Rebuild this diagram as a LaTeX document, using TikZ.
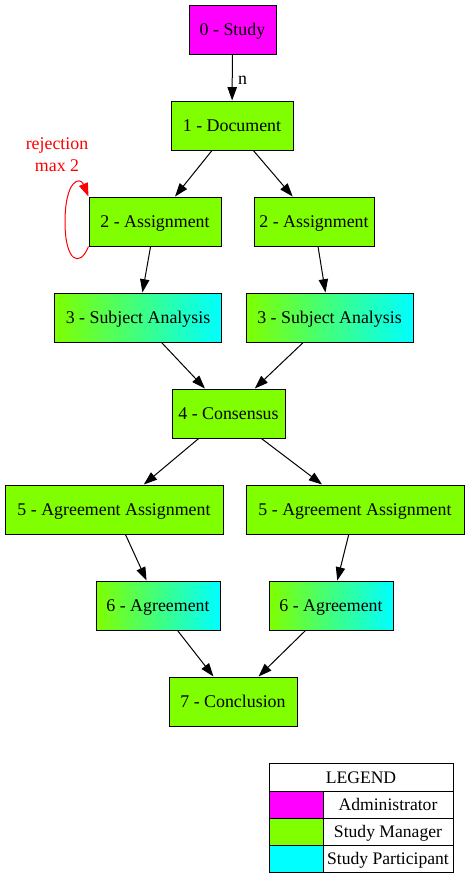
\documentclass[tikz,border=0pt]{standalone}
\usepackage{fontspec}
\setmainfont{Liberation Serif}
\usetikzlibrary{arrows.meta}
\definecolor{adm}{HTML}{FF00FF}
\definecolor{mgr}{HTML}{7FFF00}
\definecolor{par}{HTML}{00FFFF}
\begin{document}
\begin{tikzpicture}[x=0.75pt,y=-0.75pt,
  box/.style={draw=black, line width=0.75pt, fill=mgr, minimum height=36.75pt, inner sep=0pt, text height=9pt, text depth=0pt, font=\fontsize{13.4}{16}\selectfont},
  grad/.style={box, left color=mgr, right color=par},
  arr/.style={-{Triangle[length=10pt,width=7pt]}, draw=black, line width=0.75pt},
  lab/.style={font=\fontsize{13.4}{16.5}\selectfont, inner sep=0pt},
  cell/.style={draw=black, line width=0.75pt, inner sep=0pt, text height=9pt, text depth=0pt, font=\fontsize{13.2}{16}\selectfont}
]
\useasboundingbox (0,0) rectangle (469,883);
\fill[white] (0,0) rectangle (469,883);

\node[box, fill=adm, minimum width=65.25pt] (n0) at (232.5,29.5) {0 - Study};
\node[box, minimum width=91.5pt] (n1) at (232,125.5) {1 - Document};
\node[box, minimum width=99pt] (n2l) at (155,221.5) {2 - Assignment};
\node[box, minimum width=90pt] (n2r) at (314,221.5) {2 - Assignment};
\node[grad, minimum width=125.25pt] (n3l) at (138,317.5) {3 - Subject Analysis};
\node[grad, minimum width=125.25pt] (n3r) at (329.5,317.5) {3 - Subject Analysis};
\node[box, minimum width=84.75pt] (n4) at (228.5,413.5) {4 - Consensus};
\node[box, minimum width=163.5pt] (n5l) at (114,509.5) {5 - Agreement Assignment};
\node[box, minimum width=163.5pt] (n5r) at (355,509.5) {5 - Agreement Assignment};
\node[grad, minimum width=93pt] (n6l) at (158,605.5) {6 - Agreement};
\node[grad, minimum width=93pt] (n6r) at (331,605.5) {6 - Agreement};
\node[box, minimum width=96pt] (n7) at (233,701.5) {7 - Conclusion};

\draw[arr] (n0) -- node[lab, right, xshift=4pt, yshift=-2pt] {n} (n1);
\draw[arr] (n1) -- (n2l);
\draw[arr] (n1) -- (n2r);
\draw[arr] (n2l) -- (n3l);
\draw[arr] (n2r) -- (n3r);
\draw[arr] (n3l) -- (n4);
\draw[arr] (n3r) -- (n4);
\draw[arr] (n4) -- (n5l);
\draw[arr] (n4) -- (n5r);
\draw[arr] (n5l) -- (n6l);
\draw[arr] (n5r) -- (n6r);
\draw[arr] (n6l) -- (n7);
\draw[arr] (n6r) -- (n7);

\draw[arr, draw=red, -{Triangle[length=10pt,width=7pt,fill=red]}] (n2l.south west) .. controls (80,268) and (65,262) .. (65,222) .. controls (65,180) and (80,176) .. (n2l.north west);
\node[lab, red, align=center] (rej) at (57,155) {rejection\\max 2};

% legend
\node[cell, minimum width=138pt, minimum height=21pt] (lg) at (361,777) {LEGEND};
\node[cell, fill=adm, minimum width=40.5pt, minimum height=20.25pt] (ca) at (296,804.5) {};
\node[cell, minimum width=97.5pt, minimum height=20.25pt] (ta) at (388,804.5) {Administrator};
\node[cell, fill=mgr, minimum width=40.5pt, minimum height=20.25pt] (cm) at (296,831.5) {};
\node[cell, minimum width=97.5pt, minimum height=20.25pt] (tm) at (388,831.5) {Study Manager};
\node[cell, fill=par, minimum width=40.5pt, minimum height=20.25pt] (cp) at (296,858.5) {};
\node[cell, minimum width=97.5pt, minimum height=20.25pt] (tp) at (388,858.5) {Study Participant};
\end{tikzpicture}
\end{document}
